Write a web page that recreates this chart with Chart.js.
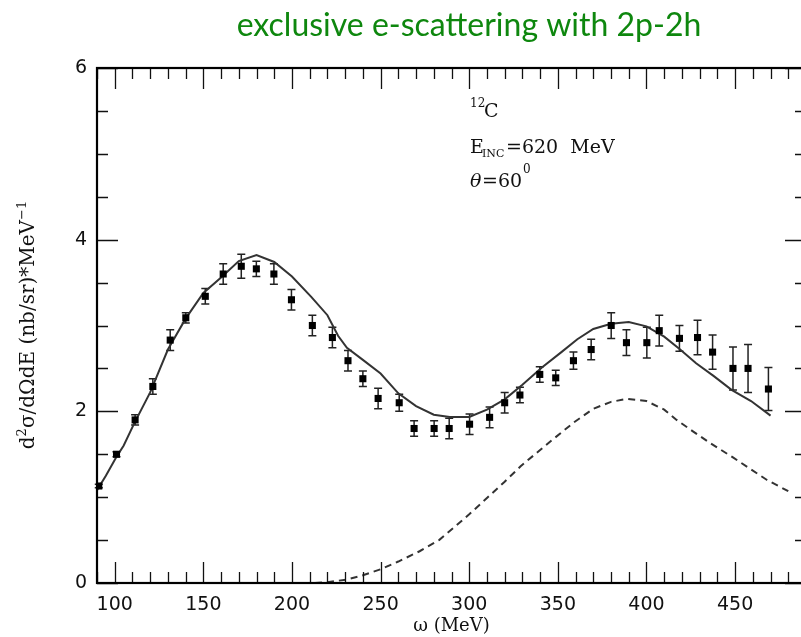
<!DOCTYPE html>
<html>
<head>
<meta charset="utf-8">
<script src="https://cdn.jsdelivr.net/npm/chart.js@4.4.0/dist/chart.umd.min.js"></script>
<style>
html, body { margin: 0; padding: 0; background: #fff; overflow: hidden; }
#wrap { width: 820px; height: 637px; }
</style>
</head>
<body>
<div id="wrap"><canvas id="c" width="820" height="637"></canvas></div>
<script>
// measured cross section (omega in MeV, d2sigma in nb/sr/MeV)
var omega    = [91, 101, 111.5, 121.5, 131.3, 140.1, 151.1, 161.2, 171.4, 179.9, 189.8, 199.7, 211.5, 222.8,
                231.6, 240, 248.6, 260.5, 268.9, 280.2, 288.7, 300.2, 311.5, 320, 328.6, 339.8, 348.8, 358.8,
                368.8, 380.1, 388.7, 400.2, 407.2, 418.6, 428.8, 437.3, 448.8, 457.3, 468.8];
var sigma    = [1.13, 1.50, 1.90, 2.29, 2.83, 3.09, 3.34, 3.60, 3.69, 3.66, 3.60, 3.30, 3.00, 2.86,
                2.59, 2.38, 2.15, 2.10, 1.80, 1.80, 1.80, 1.85, 1.93, 2.10, 2.19, 2.43, 2.39, 2.59,
                2.72, 3.00, 2.80, 2.80, 2.94, 2.85, 2.86, 2.69, 2.50, 2.50, 2.26];
var sigmaErr = [0.02, 0.03, 0.06, 0.09, 0.12, 0.06, 0.09, 0.12, 0.14, 0.09, 0.12, 0.12, 0.12, 0.12,
                0.12, 0.09, 0.12, 0.10, 0.09, 0.09, 0.12, 0.12, 0.12, 0.12, 0.09, 0.09, 0.09, 0.10,
                0.12, 0.15, 0.15, 0.18, 0.18, 0.15, 0.20, 0.20, 0.25, 0.28, 0.25];

// full calculation (solid)
var theoryOmega = [90, 95, 101, 105, 111, 120, 130, 140, 150, 160, 170, 180, 190, 200, 211, 220, 226, 231,
                   240, 250, 260, 270, 280, 289, 300, 310, 320, 330, 341, 352, 361, 370, 380, 390, 400,
                   410, 419, 428, 438, 448, 459, 470];
var theorySigma = [1.08, 1.25, 1.47, 1.60, 1.86, 2.22, 2.72, 3.08, 3.38, 3.56, 3.75, 3.82, 3.74, 3.57, 3.33,
                   3.12, 2.88, 2.74, 2.60, 2.44, 2.21, 2.06, 1.96, 1.935, 1.935, 2.02, 2.14, 2.31, 2.51,
                   2.69, 2.84, 2.96, 3.02, 3.04, 2.99, 2.87, 2.72, 2.56, 2.41, 2.25, 2.12, 1.95];

// 2p-2h contribution (dashed)
var mecOmega = [213, 220, 231, 240, 250, 260, 272, 283, 291, 300, 310, 320, 329, 340, 347, 359, 370, 380,
                389, 400, 410, 417, 426, 436, 449, 457, 468, 480];
var mecSigma = [0.0, 0.01, 0.04, 0.09, 0.16, 0.25, 0.37, 0.50, 0.64, 0.80, 0.99, 1.18, 1.36, 1.55, 1.67,
                1.87, 2.03, 2.11, 2.145, 2.12, 2.02, 1.90, 1.77, 1.63, 1.46, 1.35, 1.20, 1.07];

var xTicks = [100, 150, 200, 250, 300, 350, 400, 450];
var yTicks = [0, 2, 4, 6];
var xMin = 90, xMax = 490, yMin = 0, yMax = 6;

function pts(xs, ys){
	var out = [];
	for (var i = 0; i < xs.length; i++) out.push({x: xs[i], y: ys[i]});
	return out;
}

// frame, inward ticks, error bars and the text bits
var framePlugin = {
	id: "frame",
	beforeDatasetsDraw: function(chart){
		var ctx = chart.ctx, xs = chart.scales.x, ys = chart.scales.y;
		ctx.save();
		ctx.strokeStyle = "#222";
		ctx.lineWidth = 1.5;
		for (var i = 0; i < omega.length; i++){
			var px = xs.getPixelForValue(omega[i]);
			var top = ys.getPixelForValue(sigma[i] + sigmaErr[i]);
			var bot = ys.getPixelForValue(sigma[i] - sigmaErr[i]);
			ctx.beginPath();
			ctx.moveTo(px, top); ctx.lineTo(px, bot);
			ctx.moveTo(px - 4, top); ctx.lineTo(px + 4, top);
			ctx.moveTo(px - 4, bot); ctx.lineTo(px + 4, bot);
			ctx.stroke();
		}
		ctx.restore();
	},
	afterDraw: function(chart){
		var ctx = chart.ctx, a = chart.chartArea;
		var xs = chart.scales.x, ys = chart.scales.y;
		ctx.save();
		ctx.strokeStyle = "#111";
		ctx.lineWidth = 1.3;
		ctx.beginPath();
		var v, p, len;
		for (v = xMin; v <= xMax; v += 10){
			p = Math.round(xs.getPixelForValue(v)) + 0.5;
			len = (v % 50 === 0) ? 21 : 11;
			ctx.moveTo(p, a.bottom); ctx.lineTo(p, a.bottom - len);
			ctx.moveTo(p, a.top); ctx.lineTo(p, a.top + len);
		}
		for (v = yMin; v <= yMax; v += 0.5){
			p = Math.round(ys.getPixelForValue(v)) + 0.5;
			len = (v % 2 === 0) ? 21 : 11;
			ctx.moveTo(a.left, p); ctx.lineTo(a.left + len, p);
			ctx.moveTo(a.right, p); ctx.lineTo(a.right - len, p);
		}
		ctx.stroke();
		ctx.lineWidth = 2.2;
		ctx.strokeStyle = "#000";
		ctx.strokeRect(a.left, a.top, a.right - a.left, a.bottom - a.top);

		// title
		ctx.fillStyle = "#0e870e";
		ctx.font = "32px Lato";
		ctx.textAlign = "center";
		ctx.textBaseline = "alphabetic";
		ctx.fillText("exclusive e-scattering with 2p-2h", 469, 36);

		// annotation
		ctx.fillStyle = "#111";
		ctx.textAlign = "left";
		ctx.font = "12px 'DejaVu Serif'";
		ctx.fillText("12", 470, 107);
		ctx.font = "19px 'DejaVu Serif'";
		ctx.fillText("C", 484, 117);
		ctx.fillText("E", 470, 153);
		ctx.font = "11px 'DejaVu Serif'";
		ctx.fillText("INC", 482, 157);
		ctx.font = "19px 'DejaVu Serif'";
		ctx.fillText("=620  MeV", 506, 153);
		ctx.font = "italic 19px 'DejaVu Serif'";
		ctx.fillText("\u03b8", 470, 187);
		ctx.font = "19px 'DejaVu Serif'";
		ctx.fillText("=60", 482, 187);
		ctx.font = "12px 'DejaVu Serif'";
		ctx.fillText("0", 523, 173);

		// y axis title, rotated
		var parts = [["d", 20, 0], ["2", 13, -8], ["\u03c3/d\u03a9dE (nb/sr)*MeV", 20, 0], ["\u22121", 13, -8]];
		var total = 0, k;
		for (k = 0; k < parts.length; k++){
			ctx.font = parts[k][1] + "px 'DejaVu Serif'";
			total += ctx.measureText(parts[k][0]).width;
		}
		ctx.translate(34, 325);
		ctx.rotate(-Math.PI / 2);
		var cx = -total / 2;
		for (k = 0; k < parts.length; k++){
			ctx.font = parts[k][1] + "px 'DejaVu Serif'";
			ctx.fillText(parts[k][0], cx, parts[k][2]);
			cx += ctx.measureText(parts[k][0]).width;
		}
		ctx.restore();
	}
};

new Chart(document.getElementById("c"), {
	type: "scatter",
	data: {
		datasets: [
			{
				label: "data",
				data: pts(omega, sigma),
				pointStyle: "rect",
				pointRadius: 5,
				backgroundColor: "#000",
				borderColor: "#000",
				borderWidth: 0,
				order: 0
			},
			{
				label: "full",
				data: pts(theoryOmega, theorySigma),
				showLine: true,
				pointRadius: 0,
				borderColor: "#333",
				borderWidth: 2,
				order: 1
			},
			{
				label: "2p-2h",
				data: pts(mecOmega, mecSigma),
				showLine: true,
				pointRadius: 0,
				borderColor: "#333",
				borderWidth: 2,
				borderDash: [7, 5],
				order: 2
			}
		]
	},
	options: {
		responsive: false,
		animation: false,
		layout: { padding: { top: 68, right: 14, left: 0, bottom: 0 } },
		plugins: { legend: { display: false }, tooltip: { enabled: false } },
		scales: {
			x: {
				type: "linear",
				min: xMin, max: xMax,
				afterBuildTicks: function(s){ s.ticks = xTicks.map(function(v){ return {value: v}; }); },
				afterFit: function(s){ s.height = 54; },
				grid: { display: false, drawTicks: false },
				border: { display: false },
				ticks: { color: "#111", font: { family: "DejaVu Sans", size: 19 }, padding: 11, maxRotation: 0 },
				title: { display: true, text: "\u03c9 (MeV)", color: "#111", font: { family: "DejaVu Serif", size: 18 }, padding: 0 }
			},
			y: {
				type: "linear",
				min: yMin, max: yMax,
				afterBuildTicks: function(s){ s.ticks = yTicks.map(function(v){ return {value: v}; }); },
				afterFit: function(s){ s.width = 97; },
				grid: { display: false, drawTicks: false },
				border: { display: false },
				ticks: { color: "#111", font: { family: "DejaVu Sans", size: 19 }, padding: 10 }
			}
		}
	},
	plugins: [framePlugin]
});
</script>
</body>
</html>
